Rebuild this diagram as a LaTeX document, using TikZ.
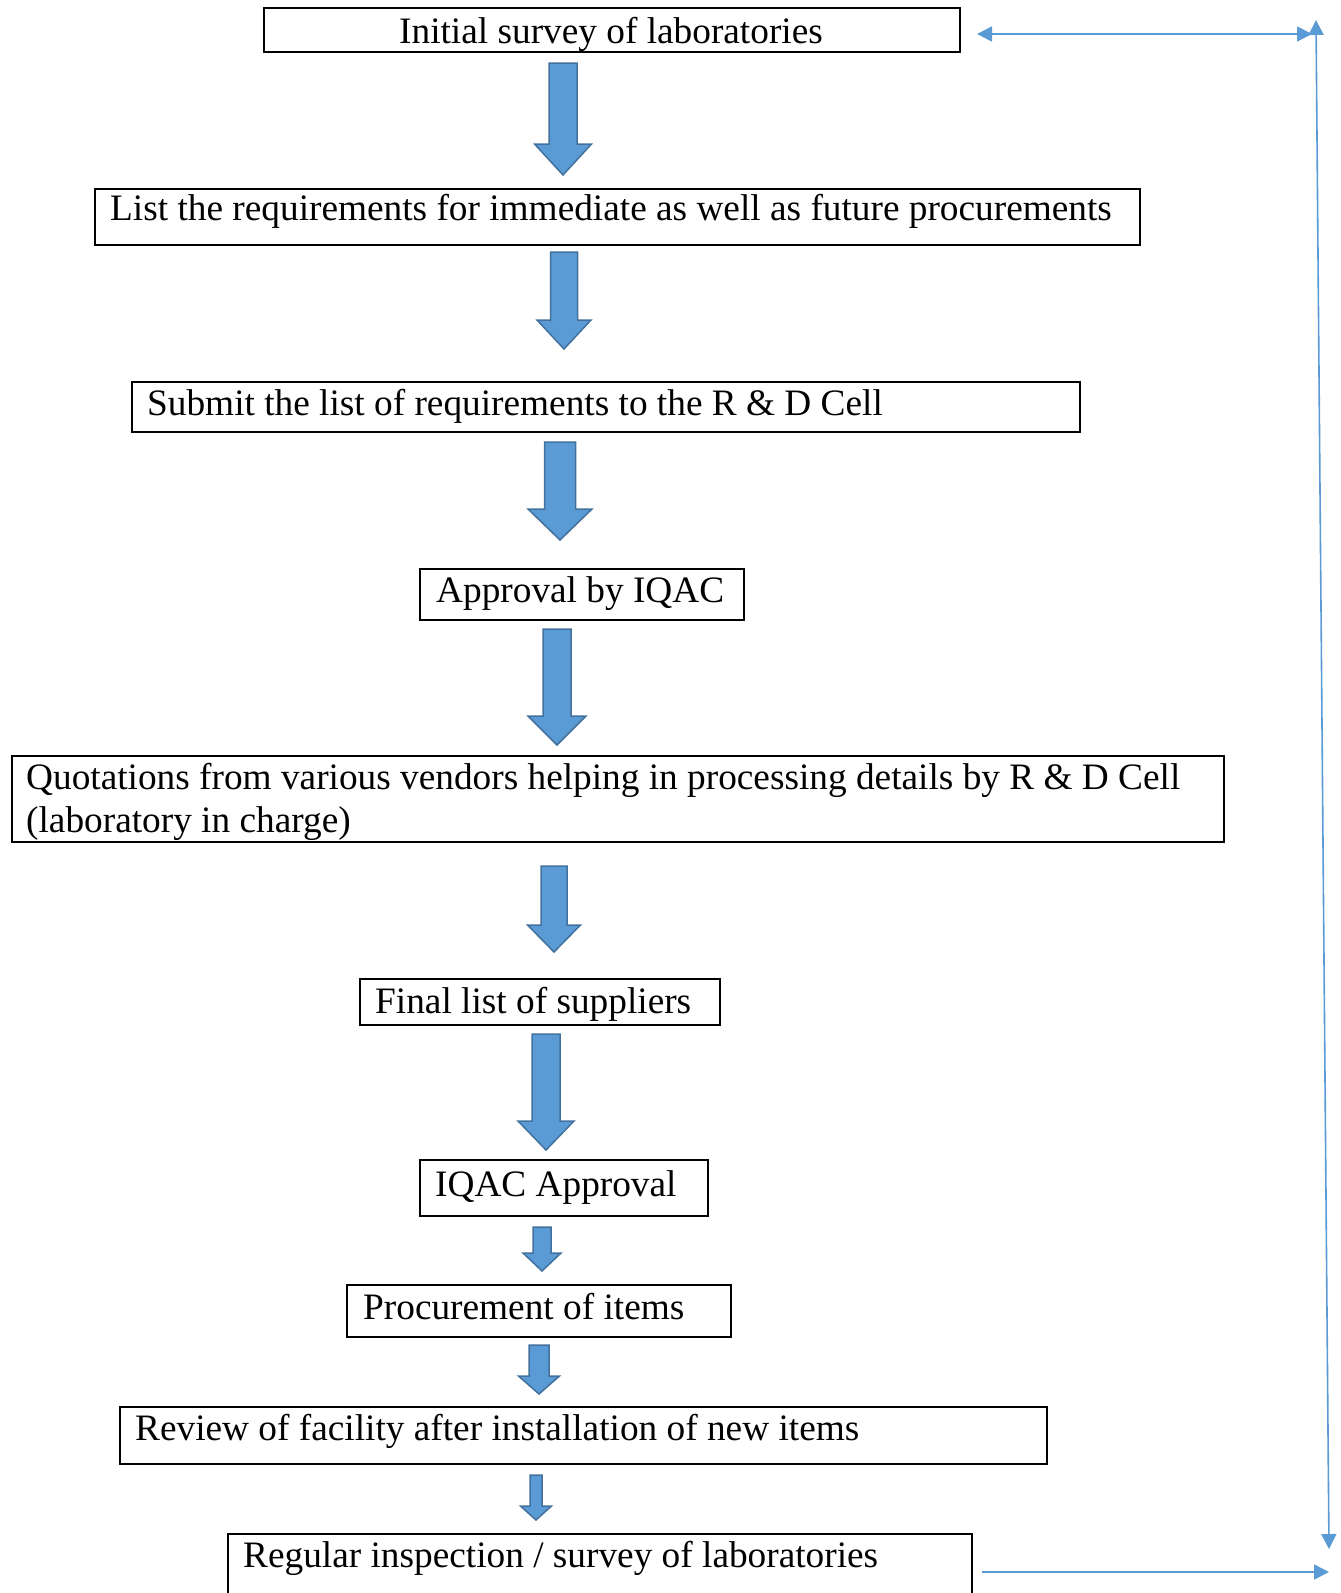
\documentclass[tikz,border=0pt]{standalone}
\usepackage{fontspec}
\setmainfont{Liberation Serif}
\usetikzlibrary{arrows.meta}
\definecolor{arrfill}{HTML}{5B9BD5}
\definecolor{arrdraw}{HTML}{41719C}
\newcommand{\blockarrow}[7]{% name, xc, ytop, ybot, shafthalf, headhalf, headlen
  \draw[blockarrowstyle] (#2-#5,#3) -- (#2+#5,#3) -- (#2+#5,#4-#7) -- (#2+#6,#4-#7)
    -- (#2,#4) -- (#2-#6,#4-#7) -- (#2-#5,#4-#7) -- cycle;
  \coordinate (#1) at (#2,#4);}
\begin{document}
\begin{tikzpicture}[x=1pt,y=-1pt,
  box/.style={draw=black,line width=1.8pt,inner sep=0pt},
  lbl/.style={anchor=base west,inner sep=0pt,font=\fontsize{37.3}{44}\selectfont},
  blockarrowstyle/.style={fill=arrfill,draw=arrdraw,line width=1.5pt,line join=miter},
  conn/.style={draw=arrfill,line width=1.6pt},
  tip/.style={-{Triangle[length=15pt,width=15pt]}}
]
\useasboundingbox (0,0) rectangle (1341,1593);
% boxes
\draw[box] (264,8) rectangle (960,52); \coordinate (b1) at (612,30);
\draw[box] (95,189) rectangle (1140,245);
\draw[box] (132,382) rectangle (1080,432);
\draw[box] (420,569) rectangle (744,620);
\draw[box] (12,756) rectangle (1224,842);
\draw[box] (360,979) rectangle (720,1025);
\draw[box] (420,1160) rectangle (708,1216);
\draw[box] (347,1285) rectangle (731,1337);
\draw[box] (120,1407) rectangle (1047,1464);
\draw[box] (228,1600) -- (228,1534) -- (972,1534) -- (972,1600);
% texts
\node[lbl,anchor=base] (t1) at (611,43) {Initial survey of laboratories};
\node[lbl] (t2) at (110,220) {List the requirements for immediate as well as future procurements};
\node[lbl] (t3) at (147,415) {Submit the list of requirements to the R \& D Cell};
\node[lbl] (t4) at (436,602) {Approval by IQAC};
\node[lbl] (t5) at (26,789) {Quotations from various vendors helping in processing details by R \& D Cell};
\node[lbl] (t5b) at (26,832) {(laboratory in charge)};
\node[lbl] (t6) at (375,1013) {Final list of suppliers};
\node[lbl] (t7) at (435,1196) {IQAC Approval};
\node[lbl] (t8) at (363,1319) {Procurement of items};
\node[lbl] (t9) at (135,1440) {Review of facility after installation of new items};
\node[lbl] (t10) at (243,1567) {Regular inspection / survey of laboratories};
% block arrows
\blockarrow{a1}{563}{63}{175}{14}{28.5}{31}
\blockarrow{a2}{564}{252}{349}{13.5}{27}{29}
\blockarrow{a3}{560}{442}{540}{15.5}{32}{31}
\blockarrow{a4}{557}{629}{745}{14}{29}{29}
\blockarrow{a5}{554}{866}{952}{13}{26.5}{27}
\blockarrow{a6}{546}{1034}{1150}{14}{28}{29}
\blockarrow{a7}{542}{1227}{1271}{9}{19}{18}
\blockarrow{a8}{539}{1345}{1394}{10}{20.5}{18}
\blockarrow{a9}{536}{1475}{1520}{6}{15.5}{14}
% feedback connector
\coordinate (tl) at (977,34);
\coordinate (tr) at (1312,34);
\coordinate (vt) at (1316,20);
\coordinate (vb) at (1329,1549);
\coordinate (bl) at (982,1572);
\coordinate (br) at (1329,1572);
\draw[conn,{Triangle[length=15pt,width=15pt]}-{Triangle[length=15pt,width=15pt]}] (tl) -- (tr);
\draw[conn,{Triangle[length=15pt,width=15pt]}-{Triangle[length=15pt,width=15pt]}] (vt) -- (vb);
\draw[conn,tip] (bl) -- (br);
\end{tikzpicture}
\end{document}
